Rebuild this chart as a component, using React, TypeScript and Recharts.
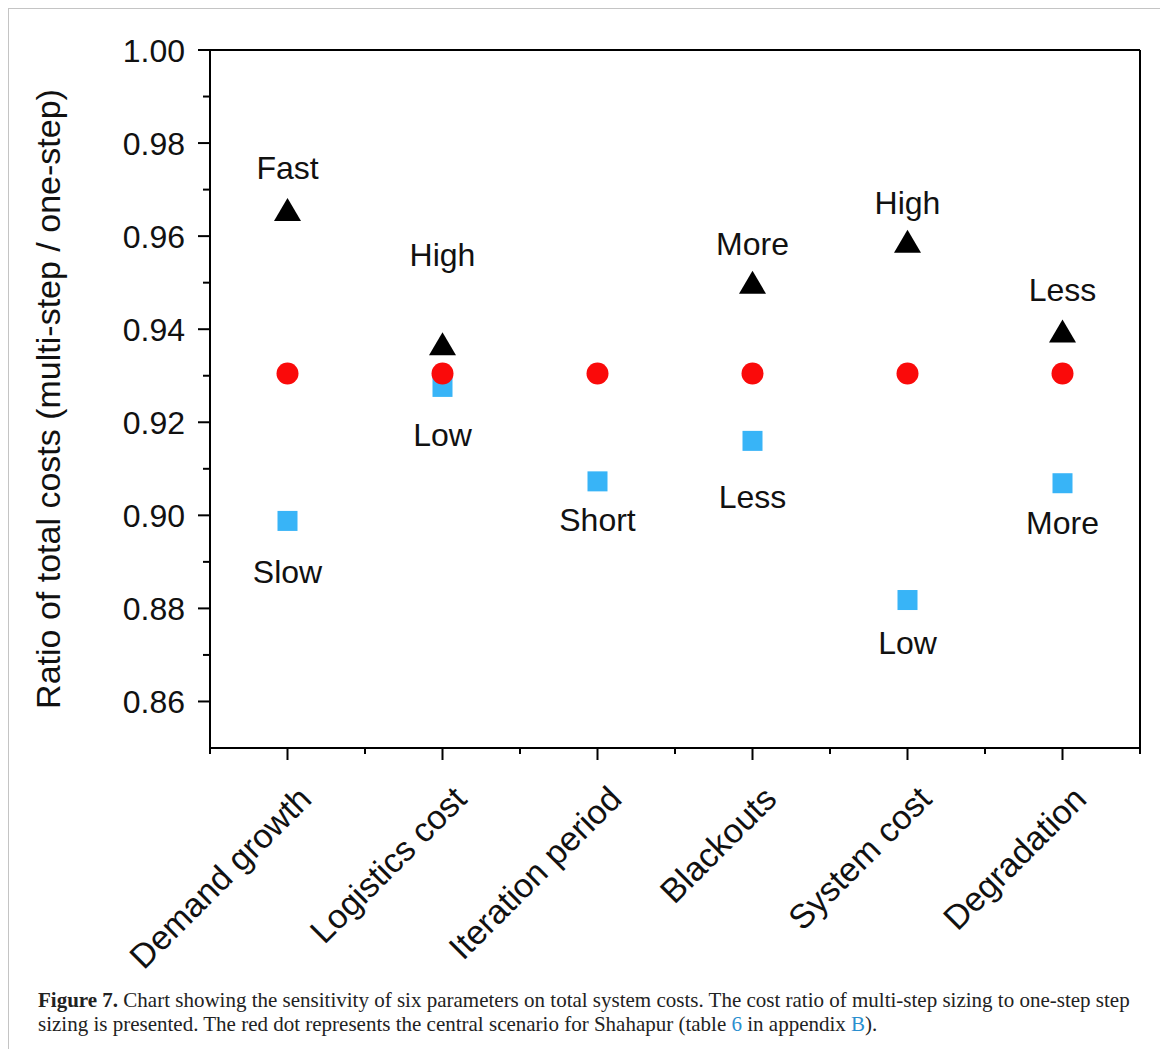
import React from "react";
import { ScatterChart, Scatter, XAxis, YAxis, ReferenceLine } from "recharts";

// categories and values
const categories = ["Demand growth", "Logistics cost", "Iteration period", "Blackouts", "System cost", "Degradation"];
const highValues = [0.9657, 0.9369, null, 0.9501, 0.9589, 0.9396];
const lowValues = [0.8988, 0.9276, 0.9073, 0.916, 0.8818, 0.9069];
const centralValues = [0.9305, 0.9305, 0.9305, 0.9305, 0.9305, 0.9305];

const highLabels = ["Fast", "High", "", "More", "High", "Less"];
const highLabelY = [0.9746, 0.9559, null, 0.9583, 0.9671, 0.9484];
const lowLabels = ["Slow", "Low", "Short", "Less", "Low", "More"];
const lowLabelY = [0.8878, 0.9173, 0.899, 0.9039, 0.8726, 0.8983];

const yTicks = [0.86, 0.87, 0.88, 0.89, 0.9, 0.91, 0.92, 0.93, 0.94, 0.95, 0.96, 0.97, 0.98, 0.99, 1.0];
const xTicks = [-0.5, 0, 0.5, 1, 1.5, 2, 2.5, 3, 3.5, 4, 4.5, 5, 5.5];

const FONT = "'Liberation Sans', Arial, sans-serif";

const toPoints = (vals: (number | null)[]) =>
  vals.map((y, i) => (y == null ? null : { x: i, y })).filter(Boolean) as { x: number; y: number }[];

const toLabels = (texts: string[], ys: (number | null)[]) =>
  texts.map((t, i) => (ys[i] == null ? null : { x: i, y: ys[i], text: t })).filter(Boolean) as any[];

const highData = toPoints(highValues);
const lowData = toPoints(lowValues);
const centralData = toPoints(centralValues);
const labelData = [...toLabels(highLabels, highLabelY), ...toLabels(lowLabels, lowLabelY)];

const Triangle = (p: any) => (
  <polygon
    points={`${p.cx},${p.cy - 11.5} ${p.cx - 13.5},${p.cy + 11.5} ${p.cx + 13.5},${p.cy + 11.5}`}
    fill="#000"
  />
);
const Square = (p: any) => <rect x={p.cx - 10} y={p.cy - 10} width={20} height={20} fill="#38b4f7" />;
const Dot = (p: any) => <circle cx={p.cx} cy={p.cy} r={11} fill="#fa0a0a" />;
const LabelText = (p: any) => (
  <text x={p.cx} y={p.cy} textAnchor="middle" dominantBaseline="central" fontSize={32} fontFamily={FONT} fill="#111">
    {p.payload.text}
  </text>
);

const XTick = (p: any) => {
  const v = p.payload.value;
  const major = Number.isInteger(v);
  const tx = p.x + 26;
  const ty = p.y + 53;
  return (
    <g>
      <line x1={p.x} y1={p.y} x2={p.x} y2={p.y + (major ? 12 : 6)} stroke="#000" strokeWidth={2} />
      {major && (
        <text
          x={tx}
          y={ty}
          textAnchor="end"
          transform={`rotate(-45 ${tx} ${ty})`}
          fontSize={34}
          fontFamily={FONT}
          fill="#111"
        >
          {categories[v]}
        </text>
      )}
    </g>
  );
};

const YTick = (p: any) => {
  const v = p.payload.value;
  const major = Math.round(v * 100) % 2 === 0;
  return (
    <g>
      <line x1={p.x} y1={p.y} x2={p.x - (major ? 12 : 7)} y2={p.y} stroke="#000" strokeWidth={2} />
      {major && (
        <text x={p.x - 25} y={p.y} dy="0.36em" textAnchor="end" fontSize={32} fontFamily={FONT} fill="#111">
          {v.toFixed(2)}
        </text>
      )}
    </g>
  );
};

export default function App() {
  return (
    <div
      style={{
        position: "relative",
        width: 1155,
        height: 1040,
        borderTop: "1px solid #c4c4c4",
        borderLeft: "1px solid #c4c4c4",
        borderRight: "1px solid #c4c4c4",
        background: "#fff",
      }}
    >
      <ScatterChart width={1155} height={1000} margin={{ top: 41, left: 181, right: 24, bottom: 241 }}>
        <XAxis
          type="number"
          dataKey="x"
          domain={[-0.5, 5.5]}
          ticks={xTicks}
          interval={0}
          height={20}
          tickSize={0}
          tickMargin={0}
          tickLine={false}
          tick={<XTick />}
          axisLine={{ stroke: "#000", strokeWidth: 2 }}
        />
        <YAxis
          type="number"
          dataKey="y"
          domain={[0.85, 1.0]}
          ticks={yTicks}
          interval={0}
          width={20}
          tickSize={0}
          tickMargin={0}
          tickLine={false}
          tick={<YTick />}
          axisLine={{ stroke: "#000", strokeWidth: 2 }}
          label={{
            content: () => (
              <text
                x={51}
                y={390}
                textAnchor="middle"
                transform="rotate(-90 51 390)"
                fontSize={34}
                fontFamily={FONT}
                fill="#111"
              >
                Ratio of total costs (multi-step / one-step)
              </text>
            ),
          }}
        />
        <ReferenceLine y={1.0} stroke="#000" strokeWidth={2} />
        <ReferenceLine x={5.5} stroke="#000" strokeWidth={2} />
        <Scatter data={lowData} shape={Square} isAnimationActive={false} />
        <Scatter data={highData} shape={Triangle} isAnimationActive={false} />
        <Scatter data={centralData} shape={Dot} isAnimationActive={false} />
        <Scatter data={labelData} shape={LabelText} isAnimationActive={false} />
      </ScatterChart>
      <div
        style={{
          position: "absolute",
          left: 29,
          top: 979,
          fontFamily: "'Liberation Serif', 'Times New Roman', serif",
          fontSize: 21,
          lineHeight: "24px",
          color: "#222",
          whiteSpace: "nowrap",
        }}
      >
        <b>Figure 7.</b> Chart showing the sensitivity of six parameters on total system costs. The cost ratio of multi-step sizing to one-step step
        <br />
        sizing is presented. The red dot represents the central scenario for Shahapur (table{" "}
        <span style={{ color: "#2a8fd0" }}>6</span> in appendix <span style={{ color: "#2a8fd0" }}>B</span>).
      </div>
    </div>
  );
}
